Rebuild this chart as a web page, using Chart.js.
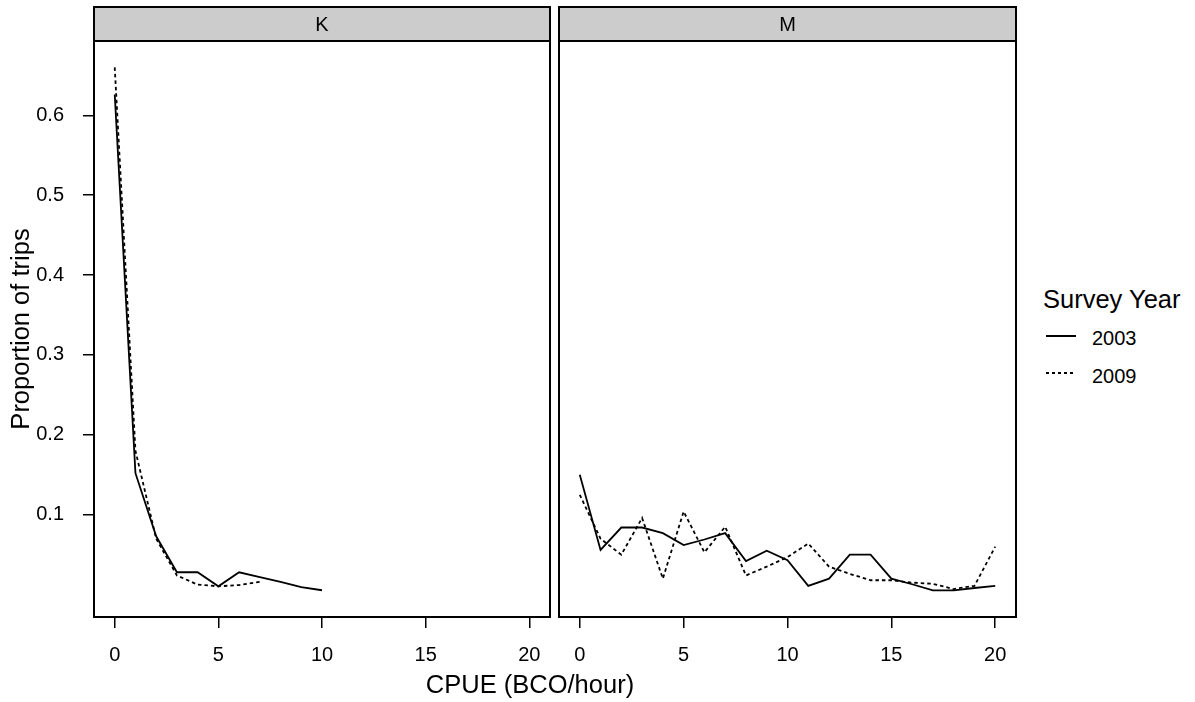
<!DOCTYPE html>
<html>
<head>
<meta charset="utf-8">
<script src="https://cdn.jsdelivr.net/npm/chart.js@4.4.1/dist/chart.umd.min.js"></script>
<style>
  body { margin: 0; background: #fff; font-family: "Liberation Sans", Arial, sans-serif; }
  #wrap { position: relative; width: 1195px; height: 702px; }
  canvas { position: absolute; top: 0; }
  #chartK { left: 0; }
  #chartM { left: 548px; }
  .txt { position: absolute; color: #000; white-space: nowrap; line-height: 1; }
  .key { position: absolute; width: 30px; height: 1.8px; }
</style>
</head>
<body>
<div id="wrap">
  <canvas id="chartK" width="560" height="702"></canvas>
  <canvas id="chartM" width="490" height="702"></canvas>
  <div class="txt" style="left:0;width:1060px;text-align:center;top:672px;font-size:25.5px;">CPUE (BCO/hour)</div>
  <div class="txt" style="left:1043px;top:287px;font-size:25.5px;">Survey Year</div>
  <div class="key" style="left:1046px;top:335px;background:#000;"></div>
  <div class="txt" style="left:1092px;top:328px;font-size:20px;">2003</div>
  <div class="key" style="left:1046px;top:372px;background:repeating-linear-gradient(to right,#000 0 3px,transparent 3px 6px);"></div>
  <div class="txt" style="left:1092px;top:366px;font-size:20px;">2009</div>
</div>
<script>
// x values (CPUE, BCO/hour) and proportions
const kX2003 = [0, 1, 2, 3, 4, 5, 6, 7, 8, 9, 10];
const k2003 = [0.626, 0.152, 0.073, 0.028, 0.028, 0.0104, 0.028, 0.022, 0.016, 0.0095, 0.0055];
const kX2009 = [0, 1, 2, 3, 4, 5, 6, 7];
const k2009 = [0.66, 0.18, 0.07, 0.024, 0.0125, 0.0104, 0.012, 0.016];

const mX = [0, 1, 2, 3, 4, 5, 6, 7, 8, 9, 10, 11, 12, 13, 14, 15, 16, 17, 18, 19, 20];
const m2003 = [0.150, 0.056, 0.084, 0.084, 0.077, 0.062, 0.069, 0.077, 0.042, 0.055, 0.043,
               0.011, 0.020, 0.050, 0.050, 0.020, 0.013, 0.0054, 0.0054, 0.0083, 0.011];
const m2009 = [0.125, 0.07, 0.05, 0.096, 0.020, 0.104, 0.053, 0.085, 0.024, 0.035, 0.047,
               0.064, 0.035, 0.026, 0.018, 0.018, 0.015, 0.0135, 0.007, 0.011, 0.060];

const xTicks = [0, 5, 10, 15, 20];
const yTicks = [0.1, 0.2, 0.3, 0.4, 0.5, 0.6];

Chart.defaults.font.family = '"Liberation Sans", Arial, sans-serif';
Chart.defaults.color = '#000';

const pts = (xs, ys) => xs.map((x, i) => ({ x: x, y: ys[i] }));

// strip on top of each panel plus the panel box
const panelFrame = {
  id: 'panelFrame',
  afterDraw(chart, args, opts) {
    const ctx = chart.ctx;
    const a = chart.chartArea;
    ctx.save();
    ctx.fillStyle = '#cccccc';
    ctx.fillRect(a.left, 7, a.right - a.left, a.top - 7);
    ctx.strokeStyle = '#000';
    ctx.lineWidth = 2;
    ctx.strokeRect(a.left, 7, a.right - a.left, a.top - 7);
    ctx.strokeRect(a.left, a.top, a.right - a.left, a.bottom - a.top);
    ctx.fillStyle = '#000';
    ctx.font = '20px "Liberation Sans", Arial, sans-serif';
    ctx.textAlign = 'center';
    ctx.textBaseline = 'middle';
    ctx.fillText(opts.label, (a.left + a.right) / 2, (7 + a.top) / 2 + 1);
    ctx.restore();
  }
};

function makePanel(id, label, d2003, d2009, showY, pad) {
  new Chart(document.getElementById(id), {
    type: 'line',
    data: {
      datasets: [
        { label: '2003', data: d2003, borderColor: '#000', borderWidth: 1.8, pointRadius: 0, tension: 0 },
        { label: '2009', data: d2009, borderColor: '#000', borderWidth: 1.8, borderDash: [3.5, 3], pointRadius: 0, tension: 0 }
      ]
    },
    options: {
      responsive: false,
      animation: false,
      layout: { padding: pad },
      plugins: {
        legend: { display: false },
        tooltip: { enabled: false },
        panelFrame: { label: label }
      },
      scales: {
        x: {
          type: 'linear',
          min: -1,
          max: 21,
          afterBuildTicks: s => { s.ticks = xTicks.map(v => ({ value: v })); },
          afterFit: s => { s.height = 85; },
          grid: { drawOnChartArea: false, tickLength: 11, color: '#000', lineWidth: 1.5 },
          border: { display: false },
          ticks: { font: { size: 20 }, padding: 15, maxRotation: 0 }
        },
        y: {
          display: showY,
          min: -0.028,
          max: 0.693,
          afterBuildTicks: s => { s.ticks = yTicks.map(v => ({ value: v })); },
          afterFit: s => { s.width = showY ? 94 : 0; },
          grid: { drawOnChartArea: false, tickLength: 11, color: '#000', lineWidth: 1.5 },
          border: { display: false },
          ticks: { font: { size: 20 }, padding: 19, callback: v => v.toFixed(1) },
          title: { display: true, text: 'Proportion of trips', font: { size: 25.5 }, padding: { top: 7, bottom: 0 } }
        }
      }
    },
    plugins: [panelFrame]
  });
}

makePanel('chartK', 'K', pts(kX2003, k2003), pts(kX2009, k2009), true,
  { top: 41, right: 10, left: 0, bottom: 0 });
makePanel('chartM', 'M', pts(mX, m2003), pts(mX, m2009), false,
  { top: 41, right: 22, left: 11, bottom: 0 });
</script>
</body>
</html>
